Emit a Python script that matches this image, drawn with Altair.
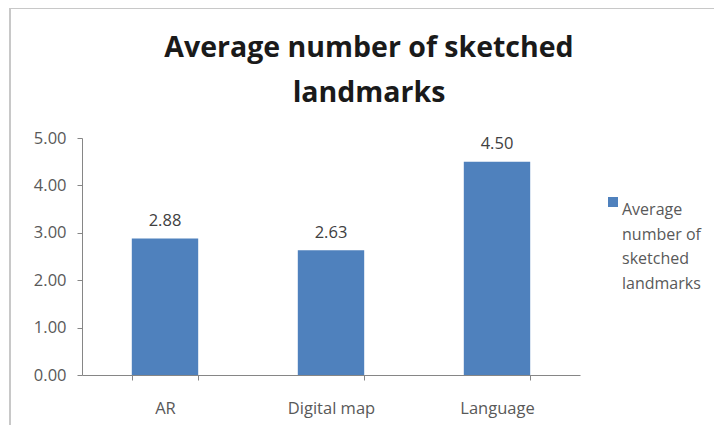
import json
import altair as alt
import pandas as pd

# ---- data ----
categories = ["AR", "Digital map", "Language"]
values = [2.88, 2.63, 4.50]
series_name = "Average number of sketched landmarks"
legend_lines = ["Average", "number of", "sketched", "landmarks"]
title_lines = ["Average number of sketched", "landmarks"]
y_ticks = [0, 1, 2, 3, 4, 5]

df = pd.DataFrame({
    "category": categories,
    "value": values,
    "series": [series_name] * len(categories),
})

BAR = "#4F81BD"
AXIS = "#868686"
LABEL = "#595959"
FONT = "Open Sans"
LBL_SIZE = 16.5

W, H = 498, 237

base = alt.Chart(df)

x_enc = alt.X(
    "category:N",
    sort=categories,
    scale=alt.Scale(paddingInner=0.6, paddingOuter=0.3),
    axis=alt.Axis(title=None, labelAngle=0, tickBand="extent", labelPadding=20,
                  domainColor=AXIS, tickColor=AXIS, tickSize=5, labelColor=LABEL,
                  labelFont=FONT, labelFontSize=LBL_SIZE),
)
y_enc = alt.Y(
    "value:Q",
    scale=alt.Scale(domain=[0, 5], nice=False),
    axis=alt.Axis(title=None, values=y_ticks, format=".2f", grid=False,
                  labelPadding=11, domainColor=AXIS, tickColor=AXIS, tickSize=5,
                  labelColor=LABEL, labelFont=FONT, labelFontSize=LBL_SIZE),
)

bars = base.mark_bar().encode(
    x=x_enc,
    y=y_enc,
    color=alt.Color(
        "series:N",
        scale=alt.Scale(range=[BAR]),
        legend=alt.Legend(
            title=None, orient="none", legendX=523, legendY=56,
            symbolType="square", symbolSize=100, symbolStrokeWidth=0,
            labelExpr=json.dumps(legend_lines), labelBaseline="top",
            labelFont=FONT, labelFontSize=16, labelColor=LABEL,
            labelOffset=1, labelLimit=300, padding=0,
        ),
    ),
)

labels = base.mark_text(dy=-12.5, baseline="alphabetic", fontSize=LBL_SIZE,
                        font=FONT, color="#404040").encode(
    x=alt.X("category:N", sort=categories),
    y="value:Q",
    text=alt.Text("value:Q", format=".2f"),
)

border_top = base.mark_rule(color="#c8c8c8", strokeWidth=2).encode(
    x=alt.value(-72), x2=alt.value(700), y=alt.value(-130)
)
border_left = base.mark_rule(color="#c8c8c8", strokeWidth=2).encode(
    x=alt.value(-72), y=alt.value(-130), y2=alt.value(330)
)

chart = alt.layer(border_top, border_left, bars, labels).properties(
    width=W,
    height=H,
    autosize="none",
    padding={"left": 74, "top": 130, "right": 134, "bottom": 50},
    title=alt.TitleParams(
        text=title_lines, fontSize=28.5, font=FONT, fontWeight="bold",
        color="#1a1a1a", lineHeight=45, offset=0, dx=38, dy=100, anchor="middle",
    ),
).configure(
    background="white", style={"guide-label": {"lineHeight": 24.5}}
).configure_view(strokeWidth=0)

chart.save("out.html", embed_options={"renderer": "svg", "actions": False})
